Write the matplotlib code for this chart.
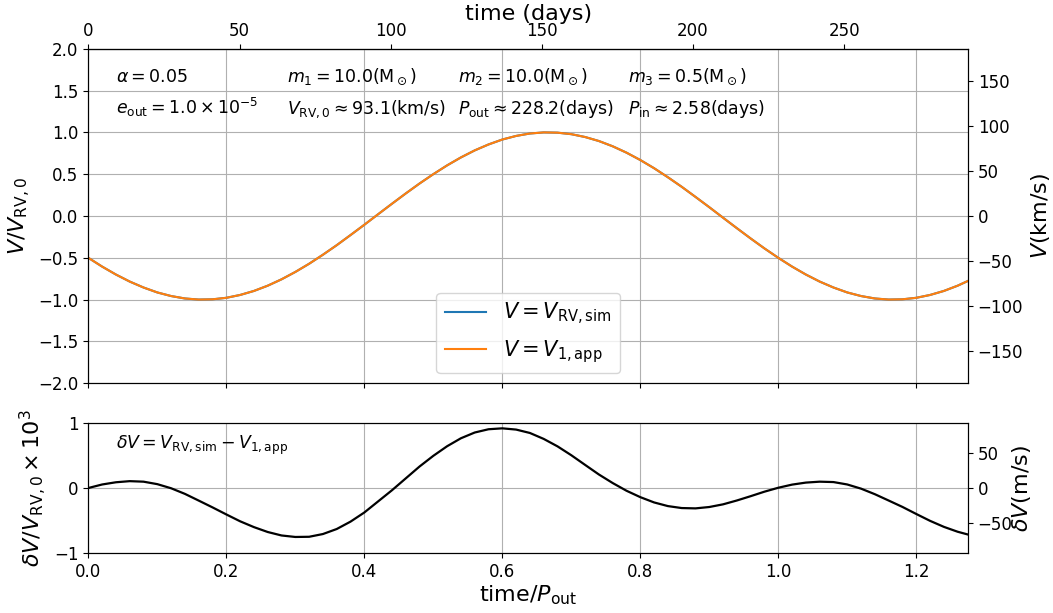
import matplotlib
matplotlib.use("Agg")
import matplotlib.pyplot as plt

# parameters shown in the annotations
p_out = 228.2      # days
v_rv0 = 93.1       # km/s

# time / P_out
t = [0.00, 0.02, 0.04, 0.06, 0.08, 0.10, 0.12, 0.14, 0.16, 0.18,
     0.20, 0.22, 0.24, 0.26, 0.28, 0.30, 0.32, 0.34, 0.36, 0.38,
     0.40, 0.42, 0.44, 0.46, 0.48, 0.50, 0.52, 0.54, 0.56, 0.58,
     0.60, 0.62, 0.64, 0.66, 0.68, 0.70, 0.72, 0.74, 0.76, 0.78,
     0.80, 0.82, 0.84, 0.86, 0.88, 0.90, 0.92, 0.94, 0.96, 0.98,
     1.00, 1.02, 1.04, 1.06, 1.08, 1.10, 1.12, 1.14, 1.16, 1.18,
     1.20, 1.22, 1.24, 1.26, 1.28]

# V / V_RV,0 (simulated and approximated curves overlap)
v_sim = [-0.500, -0.605, -0.700, -0.784, -0.855, -0.914, -0.957, -0.986, -0.999, -0.996,
         -0.978, -0.944, -0.896, -0.833, -0.757, -0.669, -0.571, -0.463, -0.349, -0.228,
         -0.105, 0.021, 0.146, 0.269, 0.388, 0.500, 0.605, 0.700, 0.784, 0.855,
         0.914, 0.957, 0.986, 0.999, 0.996, 0.978, 0.944, 0.896, 0.833, 0.757,
         0.669, 0.571, 0.463, 0.349, 0.228, 0.105, -0.021, -0.146, -0.269, -0.388,
         -0.500, -0.605, -0.700, -0.784, -0.855, -0.914, -0.957, -0.986, -0.999, -0.996,
         -0.978, -0.944, -0.896, -0.833, -0.757]
v_app = list(v_sim)

# dV / V_RV,0 x 1e3
dv = [0.000, 0.054, 0.088, 0.105, 0.097, 0.059, -0.004, -0.090, -0.193, -0.297,
      -0.405, -0.510, -0.599, -0.674, -0.727, -0.750, -0.747, -0.705, -0.628, -0.515,
      -0.375, -0.205, -0.035, 0.147, 0.329, 0.493, 0.640, 0.762, 0.850, 0.900,
      0.914, 0.895, 0.843, 0.752, 0.638, 0.502, 0.354, 0.207, 0.076, -0.042,
      -0.140, -0.221, -0.277, -0.307, -0.312, -0.291, -0.250, -0.191, -0.125, -0.056,
      0.004, 0.052, 0.083, 0.097, 0.091, 0.054, -0.010, -0.095, -0.192, -0.290,
      -0.398, -0.503, -0.595, -0.670, -0.727]

t_max = 1.275

fig = plt.figure(figsize=(10.53, 6.13), dpi=100)
ax1 = fig.add_axes([0.0839, 0.3747, 0.8354, 0.5459])
ax2 = fig.add_axes([0.0839, 0.0974, 0.8354, 0.2130])

# top panel
ax1.plot(t, v_sim, color='tab:blue', lw=1.5, label=r'$V=V_{\rm RV,sim}$')
ax1.plot(t, v_app, color='tab:orange', lw=1.5, label=r'$V=V_{\rm 1,app}$')
ax1.set_xlim(0, t_max)
ax1.set_ylim(-2, 2)
ax1.set_xticks([0, 0.2, 0.4, 0.6, 0.8, 1.0, 1.2])
ax1.set_xticklabels([])
ax1.set_yticks([-2, -1.5, -1, -0.5, 0, 0.5, 1, 1.5, 2])
ax1.tick_params(labelsize=12)
ax1.grid(True)
ax1.set_ylabel(r'$V/V_{\rm RV,0}$', fontsize=16)
ax1.legend(loc='lower center', fontsize=15)

top = ax1.secondary_xaxis('top', functions=(lambda x: x * p_out, lambda d: d / p_out))
top.set_xticks([0, 50, 100, 150, 200, 250])
top.tick_params(labelsize=12, pad=2.5)
top.set_xlabel('time (days)', fontsize=16, labelpad=1.5)

ax1r = ax1.twinx()
ax1r.set_ylim(-2 * v_rv0, 2 * v_rv0)
ax1r.set_yticks([-150, -100, -50, 0, 50, 100, 150])
ax1r.tick_params(labelsize=12)
ax1r.set_ylabel(r'$V({\rm km/s})$', fontsize=16)

xs = [0.032, 0.226, 0.42, 0.613]
row1 = [r'$\alpha = 0.05$', r'$m_1 = 10.0({\rm M}_\odot)$',
        r'$m_2 = 10.0({\rm M}_\odot)$', r'$m_3 = 0.5({\rm M}_\odot)$']
row2 = [r'$e_{\rm out} = 1.0\times10^{-5}$', r'$V_{\rm RV,0} \approx 93.1({\rm km/s})$',
        r'$P_{\rm out} \approx 228.2({\rm days})$', r'$P_{\rm in} \approx 2.58({\rm days})$']
for x, s1, s2 in zip(xs, row1, row2):
    ax1.text(x, 0.9, s1, transform=ax1.transAxes, fontsize=12.5, va='baseline')
    ax1.text(x, 0.805, s2, transform=ax1.transAxes, fontsize=12.5, va='baseline')

# bottom panel
ax2.plot(t, dv, color='black', lw=1.6)
ax2.set_xlim(0, t_max)
ax2.set_ylim(-1, 1)
ax2.set_yticks([-1, 0, 1])
ax2.set_xticks([0, 0.2, 0.4, 0.6, 0.8, 1.0, 1.2])
ax2.tick_params(labelsize=12)
ax2.grid(True)
ax2.set_xlabel(r'time/$P_{\rm out}$', fontsize=16, labelpad=2)
ax2.set_ylabel(r'$\delta V/V_{\rm RV,0}\times10^3$', fontsize=16)
ax2.text(0.032, 0.795, r'$\delta V = V_{\rm RV,sim} - V_{\rm 1,app}$',
         transform=ax2.transAxes, fontsize=12.5, va='baseline')

ax2r = ax2.twinx()
ax2r.set_ylim(-v_rv0, v_rv0)
ax2r.set_yticks([-50, 0, 50])
ax2r.tick_params(labelsize=12)
ax2r.set_ylabel(r'$\delta V({\rm m/s})$', fontsize=16, labelpad=-2)

fig.savefig('out.png', dpi=100)
